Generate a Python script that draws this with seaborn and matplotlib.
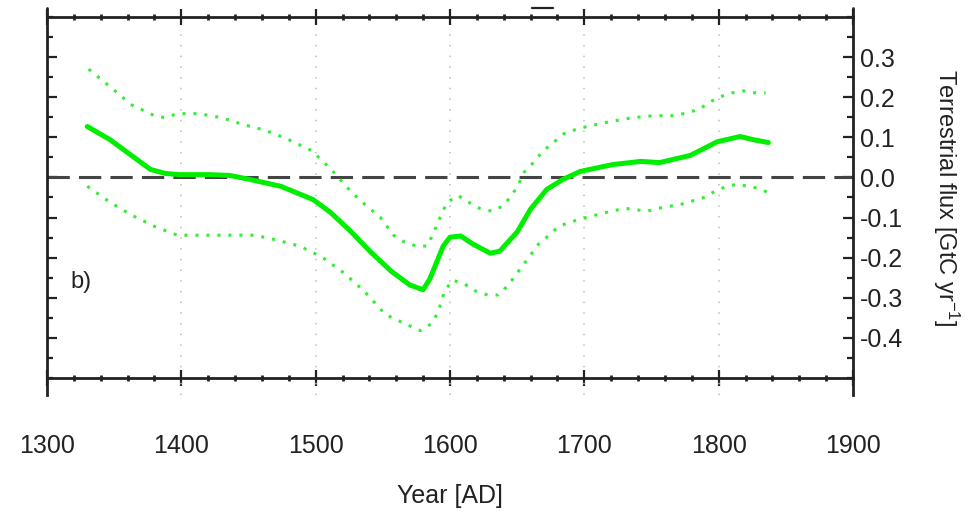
import matplotlib
matplotlib.use('Agg')
import seaborn as sns
import matplotlib.pyplot as plt
from matplotlib.lines import Line2D
from matplotlib.ticker import MultipleLocator

# Terrestrial flux (central estimate)
year = [1330, 1347, 1362, 1377, 1388, 1399, 1421, 1436, 1451, 1474, 1498,
        1511, 1526, 1541, 1556, 1570, 1580, 1585, 1595, 1600, 1608, 1617,
        1630, 1637, 1650, 1660, 1672, 1684, 1697, 1721, 1742, 1756, 1779,
        1799, 1816, 1826, 1837]
flux = [0.127, 0.094, 0.057, 0.020, 0.010, 0.007, 0.007, 0.005, -0.005,
        -0.022, -0.055, -0.087, -0.134, -0.186, -0.233, -0.268, -0.280,
        -0.253, -0.171, -0.149, -0.146, -0.166, -0.189, -0.184, -0.136,
        -0.079, -0.030, -0.005, 0.015, 0.032, 0.040, 0.037, 0.055, 0.089,
        0.102, 0.094, 0.087]

# upper uncertainty bound
upper_year = [1331, 1347, 1363, 1380, 1388, 1397, 1413, 1430, 1446, 1463,
              1480, 1497, 1511, 1524, 1533, 1548, 1558, 1566, 1575, 1583,
              1587, 1594, 1598, 1606, 1614, 1622, 1631, 1639, 1646, 1651,
              1655, 1662, 1669, 1677, 1686, 1702, 1719, 1736, 1752, 1766,
              1777, 1786, 1794, 1801, 1810, 1818, 1827, 1835]
upper_flux = [0.270, 0.226, 0.181, 0.154, 0.149, 0.159, 0.159, 0.149, 0.132,
              0.117, 0.094, 0.067, 0.022, -0.027, -0.057, -0.099, -0.144,
              -0.161, -0.171, -0.171, -0.144, -0.089, -0.062, -0.045, -0.062,
              -0.077, -0.084, -0.072, -0.045, -0.017, 0.012, 0.037, 0.065,
              0.087, 0.112, 0.127, 0.139, 0.149, 0.154, 0.154, 0.161, 0.171,
              0.189, 0.201, 0.211, 0.216, 0.211, 0.211]

# lower uncertainty bound
lower_year = [1330, 1347, 1363, 1380, 1397, 1414, 1455, 1471, 1488, 1505,
              1521, 1536, 1552, 1570, 1578, 1586, 1591, 1596, 1602, 1611,
              1619, 1628, 1636, 1643, 1649, 1655, 1661, 1666, 1672, 1681,
              1689, 1697, 1714, 1730, 1747, 1755, 1772, 1789, 1797, 1806,
              1814, 1822, 1830, 1838]
lower_flux = [-0.022, -0.062, -0.094, -0.122, -0.144, -0.144, -0.144, -0.156,
              -0.171, -0.199, -0.238, -0.283, -0.342, -0.370, -0.382, -0.365,
              -0.337, -0.283, -0.256, -0.266, -0.283, -0.293, -0.293, -0.270,
              -0.243, -0.216, -0.189, -0.166, -0.149, -0.122, -0.112, -0.104,
              -0.089, -0.077, -0.084, -0.077, -0.067, -0.050, -0.035, -0.022,
              -0.017, -0.022, -0.027, -0.040]

x_ticks = [1300, 1400, 1500, 1600, 1700, 1800, 1900]
y_ticks = [-0.4, -0.3, -0.2, -0.1, 0.0, 0.1, 0.2, 0.3]

sns.set_theme(style='white')
plt.rcParams['font.family'] = ['Liberation Sans Narrow', 'Liberation Sans', 'DejaVu Sans']
plt.rcParams['mathtext.default'] = 'regular'

fig = plt.figure(figsize=(9.7, 5.12), dpi=100)
ax = fig.add_axes([0.04845, 0.26172, 0.8309, 0.70508])
ax2 = fig.add_axes([0.04845, 0.22852, 0.8309, 0.0332])

ink = '#222222'
grid_kw = dict(color='#bdbdbd', linewidth=1.1, linestyle=(0, (1, 6)))

# upper panel
ax.axhline(0, color='#444444', linewidth=2.2, linestyle=(0, (7.3, 3.0)), zorder=2)
sns.lineplot(x=upper_year, y=upper_flux, ax=ax, color='#33ee33',
             linewidth=2.2, linestyle=(0, (1, 2.6)), zorder=3)
sns.lineplot(x=lower_year, y=lower_flux, ax=ax, color='#33ee33',
             linewidth=2.2, linestyle=(0, (1, 2.6)), zorder=3)
sns.lineplot(x=year, y=flux, ax=ax, color='#00ee00', linewidth=3.6, zorder=4)

ax.set_xlim(1300, 1900)
ax.set_ylim(-0.5, 0.4)
ax.set_xticks(x_ticks)
ax.xaxis.set_minor_locator(MultipleLocator(20))
ax.set_yticks(y_ticks)
ax.set_yticklabels([f'{v:.1f}' for v in y_ticks])
ax.yaxis.set_minor_locator(MultipleLocator(0.05))
ax.grid(axis='x', which='major', **grid_kw)
ax.grid(axis='y', visible=False)

ax.tick_params(axis='x', which='both', top=True, bottom=True, direction='inout',
               labelbottom=False, color=ink, width=1.6)
ax.tick_params(axis='x', which='major', length=12)
ax.tick_params(axis='x', which='minor', length=4.5, width=2)
ax.tick_params(axis='y', which='both', left=True, right=True, direction='in',
               labelleft=False, labelright=True, color=ink, width=1.6)
ax.tick_params(axis='y', which='major', length=7, labelsize=18, pad=5, labelcolor=ink)
ax.tick_params(axis='y', which='minor', length=4)

for s in ax.spines.values():
    s.set_color(ink)
    s.set_linewidth(2)

ax.yaxis.set_label_position('right')
ax.set_ylabel('Terrestrial flux [GtC yr$^{-1}$]', rotation=270, va='bottom',
              labelpad=20, fontsize=17, color=ink)
ax.set_xlabel('')
ax.text(1325, -0.26, 'b)', ha='center', va='center', fontsize=17, color=ink)

# thin strip of the panel below
ax2.set_xlim(1300, 1900)
ax2.set_ylim(0, 1)
ax2.set_yticks([])
ax2.set_xticks(x_ticks)
ax2.set_xticklabels([str(v) for v in x_ticks])
ax2.tick_params(axis='x', length=0, pad=28, labelsize=18, labelcolor=ink)
ax2.grid(axis='x', **grid_kw)
ax2.patch.set_alpha(0)
for side in ['top', 'bottom']:
    ax2.spines[side].set_visible(False)
for side in ['left', 'right']:
    ax2.spines[side].set_color(ink)
    ax2.spines[side].set_linewidth(2)
ax2.set_xlabel('Year [AD]', fontsize=18, labelpad=19, color=ink)

# spine stubs of the panel above, and a fragment of its text
for xf in [47 / 970, 853 / 970]:
    fig.add_artist(Line2D([xf, xf], [1 - 8 / 512, 1 - 17 / 512], color=ink, linewidth=2))
fig.add_artist(Line2D([532 / 970, 553 / 970], [1 - 8 / 512] * 2, color=ink, linewidth=1.6))

fig.savefig('out.png', dpi=100)
